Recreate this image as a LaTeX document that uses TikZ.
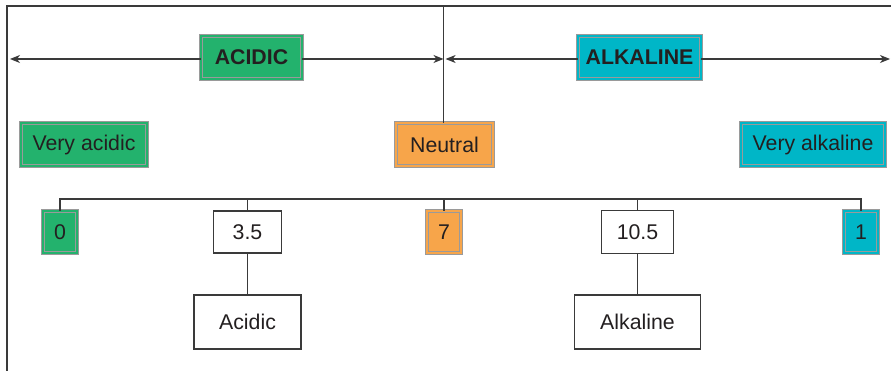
\documentclass[tikz,border=0pt]{standalone}
\usepackage{fontspec}
\setmainfont{Liberation Sans}
\usetikzlibrary{arrows.meta}
\definecolor{acgreen}{HTML}{23B26D}
\definecolor{neuorange}{HTML}{F7A54A}
\definecolor{alkcyan}{HTML}{00B6C7}
\definecolor{txt}{HTML}{231F20}
\definecolor{edge}{HTML}{9A9A9A}
\definecolor{ln}{HTML}{3A3A3A}
\tikzset{
  lbl/.style={text=txt, font=\fontsize{21.3}{25}\selectfont, inner sep=0pt, align=center},
  dbox/.style={lbl, draw=edge, double distance=2.2pt, line width=0.8pt},
  gbox/.style={dbox, fill=acgreen, double=acgreen},
  obox/.style={dbox, fill=neuorange, double=neuorange},
  cbox/.style={dbox, fill=alkcyan, double=alkcyan},
  wbox/.style={lbl, draw=ln, fill=white, line width=1.1pt},
  conn/.style={draw=ln, line width=1.2pt},
  tip/.style={-{Stealth[length=10pt,width=8pt,inset=3pt]}}
}
\begin{document}
\begin{tikzpicture}[x=1pt,y=-1pt]
\useasboundingbox (0,0) rectangle (891,371);
% frame
\coordinate (tl) at (7,6);
\coordinate (tr) at (891,6);
\coordinate (bl) at (7,371);
\coordinate (top) at (443.5,6);
\draw[conn] (bl) -- (tl) -- (tr);
% arrow row
\coordinate (lend) at (10,59);
\coordinate (mid) at (443.5,59);
\coordinate (rend) at (890,59);
\node[gbox, minimum width=101pt, minimum height=43pt, font=\fontsize{21.3}{25}\selectfont\bfseries] (acidic) at (251.5,57.5) {ACIDIC};
\node[cbox, minimum width=123pt, minimum height=43pt, font=\fontsize{21.3}{25}\selectfont\bfseries] (alkaline) at (639.5,57.5) {ALKALINE};
\draw[conn, tip] (acidic.west |- lend) -- (lend);
\draw[conn, tip] (acidic.east |- mid) -- (mid);
\draw[conn, tip] (alkaline.west |- mid) -- ++(-132,0);
\draw[conn, tip] (alkaline.east |- rend) -- (rend);
% middle row
\node[gbox, minimum width=126pt, minimum height=43pt] (vacid) at (84,144.5) {Very acidic};
\node[obox, minimum width=97pt, minimum height=43pt] (neutral) at (444.5,144.5) {Neutral};
\node[cbox, minimum width=144pt, minimum height=43pt] (valk) at (813,144.5) {Very alkaline};
\draw[conn] (top) -- (top |- neutral.north);
% scale row
\coordinate (bar) at (0,199);
\node[gbox, minimum width=34pt, minimum height=42pt] (n0) at (60,232) {0};
\node[wbox, minimum width=68pt, minimum height=42pt] (n1) at (247.5,232) {3.5};
\node[obox, minimum width=34pt, minimum height=42pt] (n2) at (444,232) {7};
\node[wbox, minimum width=72pt, minimum height=43pt] (n3) at (637.5,232) {10.5};
\node[cbox, minimum width=34pt, minimum height=42pt] (n4) at (861,232) {1};
\draw[conn] (n0.north) -- (n0.north |- bar) -- (n4.north |- bar) -- (n4.north);
\draw[conn] (n1.north) -- (n1.north |- bar);
\draw[conn] (n2.north) -- (n2.north |- bar);
\draw[conn] (n3.north) -- (n3.north |- bar);
% bottom row
\node[wbox, minimum width=107pt, minimum height=54pt] (acid2) at (247.5,322) {Acidic};
\node[wbox, minimum width=126pt, minimum height=54pt] (alk2) at (637.5,322) {Alkaline};
\draw[conn] (n1.south) -- (acid2.north);
\draw[conn] (n3.south) -- (alk2.north);
\end{tikzpicture}
\end{document}
